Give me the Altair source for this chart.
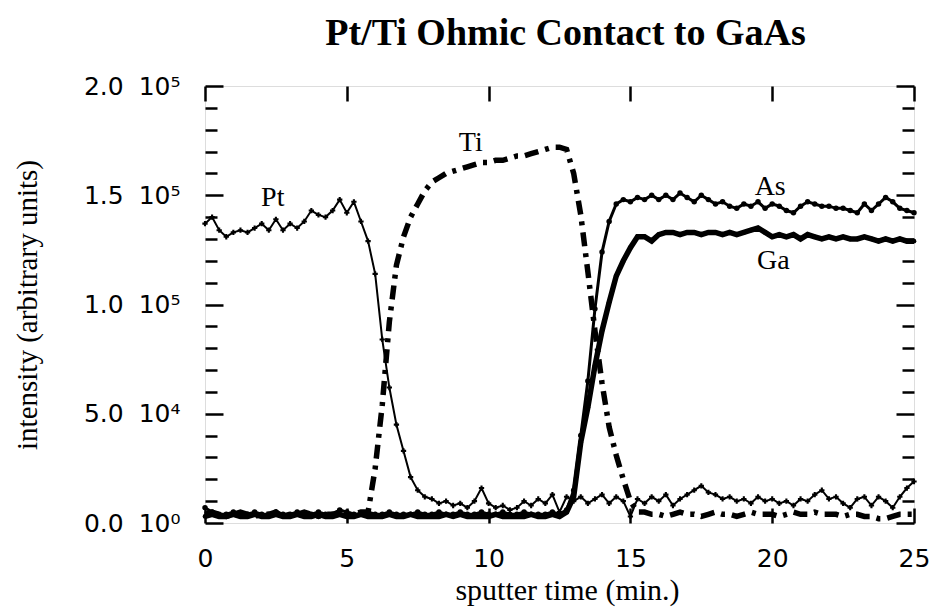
import altair as alt
import pandas as pd

PT = [137, 140, 134, 131, 133, 134, 133, 135, 137, 134, 139, 134, 137, 135, 138, 143,
      141, 140, 143, 148, 142, 147, 138, 129, 114, 84, 62, 45, 33, 21, 15, 12,
      11, 9, 10, 8, 9, 7, 10, 16, 9, 7, 8, 6, 7, 10, 8, 11,
      9, 13, 5, 12, 10, 12, 9, 11, 13, 9, 12, 10, 3, 11, 9, 12,
      10, 13, 8, 11, 13, 15, 17, 14, 13, 11, 12, 10, 11, 9, 12, 10,
      11, 9, 10, 8, 11, 10, 13, 15, 11, 12, 9, 7, 11, 12, 8, 12,
      10, 7, 12, 16, 19]
TI = [4, 5, 4, 3, 4, 5, 4, 3, 4, 4, 5, 3, 4, 4, 5, 4,
      3, 4, 4, 5, 4, 4, 5, 5, 25, 54, 92, 118, 131, 140, 146, 152,
      156, 158, 160, 161, 162, 163, 164, 165, 165, 166, 166, 167, 168, 168, 169, 170,
      171, 172, 172, 171, 160, 141, 115, 88, 64, 44, 31, 20, 10, 5, 5, 4,
      4, 3, 4, 5, 4, 4, 3, 4, 5, 4, 4, 3, 4, 5, 4, 4,
      4, 3, 4, 5, 4, 4, 5, 4, 4, 4, 3, 4, 4, 3, 3, 2,
      2, 3, 4, 4, 4]
AS = [7, 5, 4, 4, 5, 4, 4, 5, 4, 4, 5, 4, 4, 5, 4, 4,
      5, 4, 4, 6, 5, 4, 4, 5, 4, 4, 5, 4, 4, 4, 5, 4,
      4, 5, 4, 4, 5, 4, 4, 5, 4, 4, 5, 4, 4, 5, 4, 4,
      4, 5, 4, 6, 15, 40, 65, 98, 124, 138, 146, 148, 147, 149, 148, 150,
      148, 150, 148, 151, 149, 147, 150, 148, 146, 147, 145, 144, 146, 145, 147, 144,
      146, 145, 143, 142, 145, 147, 146, 145, 145, 144, 144, 143, 142, 146, 143, 146,
      149, 147, 144, 143, 142]
GA = [3, 4, 3, 3, 4, 3, 3, 4, 3, 3, 4, 3, 3, 4, 3, 3,
      4, 3, 3, 4, 3, 3, 4, 3, 3, 3, 4, 3, 3, 4, 3, 3,
      3, 3, 4, 3, 4, 3, 3, 3, 3, 4, 3, 3, 3, 3, 4, 3,
      3, 4, 3, 5, 12, 37, 53, 72, 88, 101, 113, 120, 126, 131, 131, 129,
      132, 133, 133, 132, 133, 133, 132, 133, 133, 132, 133, 132, 133, 134, 135, 133,
      131, 132, 131, 132, 130, 132, 131, 130, 131, 130, 131, 130, 130, 131, 130, 129,
      130, 129, 130, 129, 129]
TIME = [i * 0.25 for i in range(len(PT))]

LABEL_NAMES = ["Pt", "Ti", "As", "Ga"]
LABEL_T = [2.39, 9.37, 19.93, 20.04]
LABEL_V = [148700, 173900, 153800, 119900]

X_TICKS = [0, 5, 10, 15, 20, 25]
Y_TICKS = [0, 50000, 100000, 150000, 200000]
Y_TICK_LABELS = ["0.0\u2002\u200a10⁰", "5.0\u2002\u200a10⁴", "1.0\u2002\u200a10⁵",
                 "1.5\u2002\u200a10⁵", "2.0\u2002\u200a10⁵"]
Y_MINOR = [10000, 20000, 30000, 40000, 60000, 70000, 80000, 90000,
           110000, 120000, 130000, 140000, 160000, 170000, 180000, 190000]

TITLE = "Pt/Ti Ohmic Contact to GaAs"
X_TITLE = "sputter time (min.)"
Y_TITLE = "intensity (arbitrary units)"

rows = []
for name, vals in [("Pt", PT), ("Ti", TI), ("As", AS), ("Ga", GA)]:
    for t, v in zip(TIME, vals):
        rows.append({"series": name, "t": t, "v": v * 1000})
df = pd.DataFrame(rows)
label_df = pd.DataFrame({"name": LABEL_NAMES, "t": LABEL_T, "v": LABEL_V})

xs = alt.Scale(domain=[0, 25], nice=False, zero=False)
ys = alt.Scale(domain=[0, 200000], nice=False)


def X(axis=None):
    return alt.X("t:Q", scale=xs, axis=axis)


def Y(axis=None):
    return alt.Y("v:Q", scale=ys, axis=axis)


label_expr = " : ".join(
    f"datum.value == {v} ? '{s}'" for v, s in zip(Y_TICKS, Y_TICK_LABELS)
) + " : ''"

base = alt.Chart(df)

pt_line = base.transform_filter("datum.series == 'Pt'").mark_line(
    color="black", strokeWidth=2,
    point=alt.OverlayMarkDef(shape="cross", size=28, color="black", filled=True),
).encode(x=X(), y=Y())

ti_line = base.transform_filter("datum.series == 'Ti'").mark_line(
    color="black", strokeWidth=5.5, strokeDash=[14, 7, 4, 7],
).encode(x=X(), y=Y())

as_line = base.transform_filter("datum.series == 'As'").mark_line(
    color="black", strokeWidth=3,
    point=alt.OverlayMarkDef(shape="circle", size=30, color="black", filled=True),
).encode(x=X(), y=Y())

ga_line = base.transform_filter("datum.series == 'Ga'").mark_line(
    color="black", strokeWidth=5.5,
    point=alt.OverlayMarkDef(shape="circle", size=22, color="black", filled=True),
).encode(x=X(), y=Y())

labels = alt.Chart(label_df).mark_text(
    font="Liberation Serif", fontSize=28, color="black"
).encode(x=X(), y=Y(), text="name:N")

common_tick = dict(tickColor="black", tickWidth=2.5, domain=False, grid=False)

ax_main = base.mark_point(opacity=0).encode(
    x=X(alt.Axis(orient="bottom", values=X_TICKS, tickSize=15, offset=-15,
                 labelFont="DejaVu Sans", labelFontSize=25, labelColor="black",
                 labelPadding=23, labelFlush=False, labelOverlap=False,
                 title=X_TITLE, titleFont="Liberation Serif", titleFontSize=30,
                 titleFontWeight="normal", titleColor="black",
                 titleX=362, titleY=82, titleBaseline="middle", **common_tick)),
    y=Y(alt.Axis(orient="left", values=Y_TICKS, tickSize=18, offset=-18,
                 labelExpr=label_expr, labelFont="DejaVu Sans", labelFontSize=25,
                 labelColor="black", labelPadding=25, labelOverlap=False,
                 title=Y_TITLE, titleFont="Liberation Serif", titleFontSize=29,
                 titleFontWeight="normal", titleColor="black",
                 titleX=-196, titleBaseline="middle", **common_tick)),
)

ax_left_minor = base.mark_point(opacity=0).encode(
    x=X(),
    y=Y(alt.Axis(orient="left", values=Y_MINOR, tickSize=12, offset=-12,
                 labels=False, title=None, **common_tick)),
)
ax_right_major = base.mark_point(opacity=0).encode(
    x=X(),
    y=Y(alt.Axis(orient="right", values=Y_TICKS, tickSize=18, offset=-18,
                 labels=False, title=None, **common_tick)),
)
ax_right_minor = base.mark_point(opacity=0).encode(
    x=X(),
    y=Y(alt.Axis(orient="right", values=Y_MINOR, tickSize=12, offset=-12,
                 labels=False, title=None, **common_tick)),
)
ax_top = base.mark_point(opacity=0).encode(
    x=X(alt.Axis(orient="top", values=X_TICKS, tickSize=15, offset=-15,
                 labels=False, title=None, **common_tick)),
    y=Y(),
)

chart = alt.layer(
    ti_line, pt_line, as_line, ga_line, labels,
    ax_main, ax_left_minor, ax_right_major, ax_right_minor, ax_top,
).resolve_axis(
    x="independent", y="independent"
).properties(
    width=709, height=437,
    autosize=alt.AutoSizeParams(type="none"),
    padding={"left": 205, "top": 86, "right": 24, "bottom": 85},
    title=alt.Title(TITLE, font="Liberation Serif", fontSize=38, fontWeight="bold",
                    color="black", anchor="middle", frame="group", offset=-9,
                    baseline="alphabetic", dx=6),
).configure_view(
    stroke="black", strokeWidth=2.5
).configure(background="white")

chart.save("out.html", embed_options={"renderer": "svg", "actions": False})
